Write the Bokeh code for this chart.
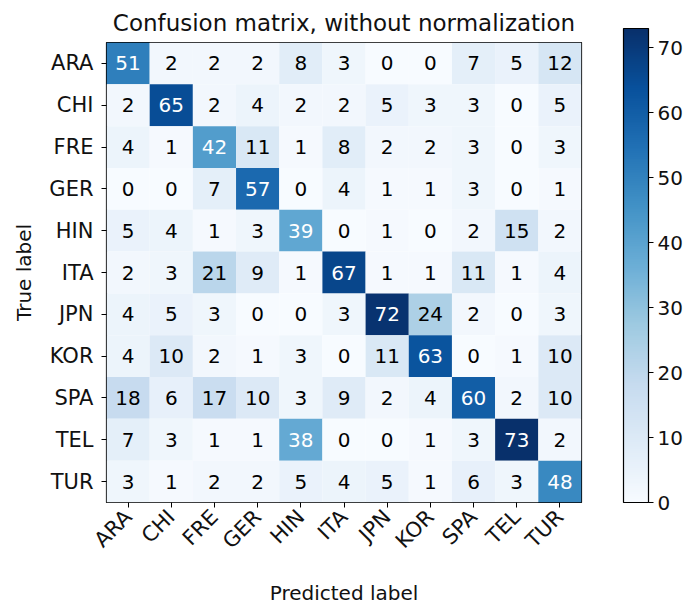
import numpy as np
from math import pi
from bokeh.plotting import figure
from bokeh.models import ColumnDataSource, LinearColorMapper, ColorBar, FixedTicker, FactorRange
from bokeh.palettes import Blues256
from bokeh.core.properties import value
from bokeh.embed import file_html
from bokeh.resources import INLINE

labels = ["ARA", "CHI", "FRE", "GER", "HIN", "ITA", "JPN", "KOR", "SPA", "TEL", "TUR"]
row_ARA = [51, 2, 2, 2, 8, 3, 0, 0, 7, 5, 12]
row_CHI = [2, 65, 2, 4, 2, 2, 5, 3, 3, 0, 5]
row_FRE = [4, 1, 42, 11, 1, 8, 2, 2, 3, 0, 3]
row_GER = [0, 0, 7, 57, 0, 4, 1, 1, 3, 0, 1]
row_HIN = [5, 4, 1, 3, 39, 0, 1, 0, 2, 15, 2]
row_ITA = [2, 3, 21, 9, 1, 67, 1, 1, 11, 1, 4]
row_JPN = [4, 5, 3, 0, 0, 3, 72, 24, 2, 0, 3]
row_KOR = [4, 10, 2, 1, 3, 0, 11, 63, 0, 1, 10]
row_SPA = [18, 6, 17, 10, 3, 9, 2, 4, 60, 2, 10]
row_TEL = [7, 3, 1, 1, 38, 0, 0, 1, 3, 73, 2]
row_TUR = [3, 1, 2, 2, 5, 4, 5, 1, 6, 3, 48]
colorbar_ticks = [0, 10, 20, 30, 40, 50, 60, 70]
title_text = "Confusion matrix, without normalization"

matrix = [row_ARA, row_CHI, row_FRE, row_GER, row_HIN, row_ITA,
          row_JPN, row_KOR, row_SPA, row_TEL, row_TUR]
vmax = max(max(r) for r in matrix)
thresh = vmax / 2.0

xs, ys, vals, txt, tcol = [], [], [], [], []
for i, t in enumerate(labels):
    for j, pr in enumerate(labels):
        v = matrix[i][j]
        xs.append(pr); ys.append(t); vals.append(v); txt.append(str(v))
        tcol.append("white" if v > thresh else "black")
src = ColumnDataSource(dict(x=xs, y=ys, v=vals, t=txt, c=tcol))

mapper = LinearColorMapper(palette=list(reversed(Blues256)), low=0, high=vmax)

FONT = "DejaVu Sans"
p = figure(width=691, height=607, output_backend="svg", toolbar_location=None,
           x_range=FactorRange(*labels), y_range=FactorRange(*reversed(labels)),
           min_border_left=106, min_border_top=40, min_border_bottom=93, min_border_right=110,
           title=title_text)
p.rect(x="x", y="y", width=1, height=1, source=src,
       fill_color={"field": "v", "transform": mapper}, line_color=None)
p.text(x="x", y="y", text="t", source=src, text_color="c",
       text_align="center", text_baseline="middle",
       text_font=value(FONT), text_font_size="20px")

p.title.align = "center"
p.title.text_font = FONT
p.title.text_font_size = "23px"
p.title.text_font_style = "normal"
p.title.text_color = "#111111"
p.title.standoff = 14

p.grid.visible = False
p.outline_line_color = "black"
p.outline_line_width = 1.2
for ax in (p.xaxis, p.yaxis):
    ax.axis_line_color = None
    ax.major_tick_in = 0
    ax.major_tick_out = 5
    ax.major_tick_line_color = "black"
    ax.major_label_text_font = FONT
    ax.major_label_text_font_size = "21px"
    ax.major_label_text_color = "#111111"
    ax.axis_label_text_font = FONT
    ax.axis_label_text_font_size = "20px"
    ax.axis_label_text_font_style = "normal"
    ax.axis_label_text_color = "#111111"
p.xaxis.major_label_orientation = pi / 4
p.yaxis.major_label_standoff = 8
p.xaxis.major_label_standoff = 6
p.xaxis.axis_label = "Predicted label"
p.yaxis.axis_label = "True label"
p.xaxis.axis_label_standoff = 16
p.yaxis.axis_label_standoff = 10

cb = ColorBar(color_mapper=mapper, ticker=FixedTicker(ticks=colorbar_ticks),
              width=25, height=474, padding=0, margin=0, location=(517, 0),
              major_label_text_font=FONT, major_label_text_font_size="20px",
              major_label_text_color="#111111", label_standoff=4,
              major_tick_in=0, major_tick_out=5, major_tick_line_color="black",
              major_tick_line_width=1.2,
              bar_line_color="black", bar_line_width=1.2,
              border_line_color=None, background_fill_color=None)
p.add_layout(cb, "center")

open("out.html", "w").write(file_html(p, INLINE))
